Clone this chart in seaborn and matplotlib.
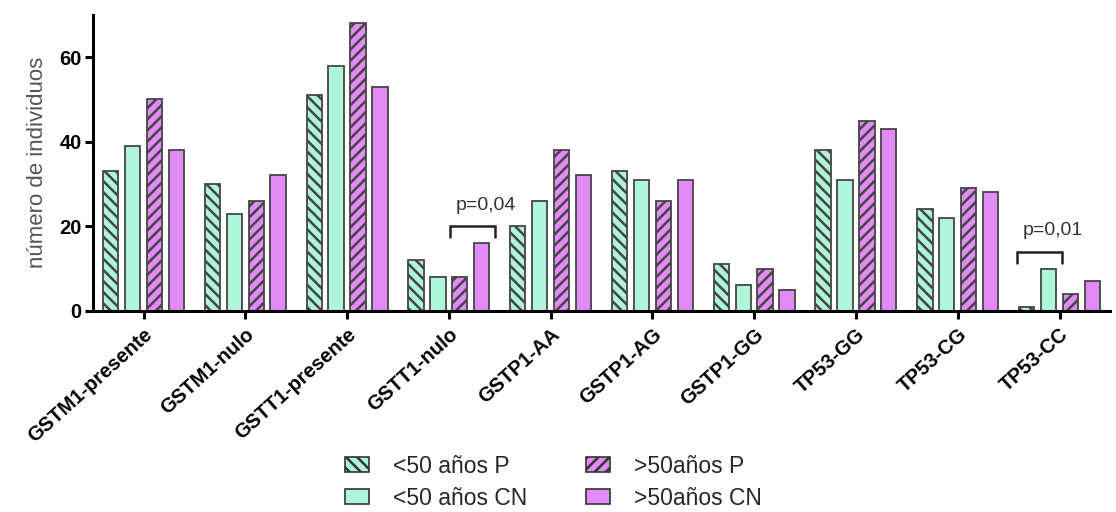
import numpy as np
import pandas as pd
import matplotlib
matplotlib.use("Agg")
import matplotlib.pyplot as plt
import matplotlib.patches as mpatches
import seaborn as sns

# Genotype categories and counts per group
categories = ["GSTM1-presente", "GSTM1-nulo", "GSTT1-presente", "GSTT1-nulo",
              "GSTP1-AA", "GSTP1-AG", "GSTP1-GG", "TP53-GG", "TP53-CG", "TP53-CC"]
groups = ["<50 años P", "<50 años CN", ">50años P", ">50años CN"]
menor50_p = [33, 30, 51, 12, 20, 33, 11, 38, 24, 1]
menor50_cn = [39, 23, 58, 8, 26, 31, 6, 31, 22, 10]
mayor50_p = [50, 26, 68, 8, 38, 26, 10, 45, 29, 4]
mayor50_cn = [38, 32, 53, 16, 32, 31, 5, 43, 28, 7]

# Significance annotations: (category, first group, last group, label)
significance = [("GSTT1-nulo", 2, 3, "p=0,04"),
                ("TP53-CC", 0, 1, "p=0,01")]

mint = "#aef5da"
violet = "#e28af6"
palette = [mint, mint, violet, violet]
hatches = ["\\\\\\", "", "///", ""]

df = pd.DataFrame({
    "categoria": np.tile(categories, 4),
    "grupo": np.repeat(groups, len(categories)),
    "n": menor50_p + menor50_cn + mayor50_p + mayor50_cn,
})

sns.set_style("ticks")
plt.rcParams["font.family"] = ["Liberation Sans", "DejaVu Sans"]
plt.rcParams["hatch.linewidth"] = 1.8
plt.rcParams["hatch.color"] = "black"

fig = plt.figure(figsize=(11.16, 5.12), dpi=100)
ax = fig.add_axes([0.083, 0.393, 0.912, 0.578])

sns.barplot(data=df, x="categoria", y="n", hue="grupo", order=categories,
            hue_order=groups, palette=palette, width=0.86, gap=0.3,
            edgecolor="#444444", linewidth=1.3, saturation=1, ax=ax,
            legend=False, errorbar=None)

for cont, h in zip(ax.containers, hatches):
    for bar in cont.patches:
        bar.set_hatch(h)

ax.set_xlim(-0.5, 9.5)
ax.set_ylim(0, 70)
ax.set_yticks([0, 20, 40, 60])
ax.set_xlabel("")
ax.set_ylabel("número de individuos", fontsize=16, color="#555555", labelpad=8)
sns.despine(ax=ax)
for side in ["left", "bottom"]:
    ax.spines[side].set_linewidth(2.2)
    ax.spines[side].set_color("black")
ax.tick_params(axis="both", width=2.2, length=6, color="black", labelcolor="black")
ax.tick_params(axis="y", labelsize=14.5, pad=2)
ax.tick_params(axis="x", labelsize=14.5, pad=4)
for lab in ax.get_yticklabels():
    lab.set_fontweight("bold")
for lab in ax.get_xticklabels():
    lab.set_fontweight("bold")
    lab.set_rotation(42)
    lab.set_ha("right")
    lab.set_rotation_mode("anchor")

# Brackets spanning the compared bars
for cat, g0, g1, text in significance:
    i = categories.index(cat)
    b0 = ax.containers[g0].patches[i]
    b1 = ax.containers[g1].patches[i]
    x0 = b0.get_x() - 0.02
    x1 = b1.get_x() + b1.get_width() + 0.055
    top = max(b0.get_height(), b1.get_height()) + 4.0
    ax.plot([x0, x0, x1, x1], [top - 2.6, top, top, top - 2.6],
            color="#222222", lw=1.8, solid_joinstyle="miter")
    ax.text((x0 + x1) / 2 + 0.13, top + 5.0, text, ha="center", va="center",
            fontsize=14, color="#333333")

handles = [mpatches.Patch(facecolor=c, edgecolor="#333333", hatch=h,
                          linewidth=1.2, label=g)
           for c, h, g in zip(palette, hatches, groups)]
fig.legend(handles=handles, loc="upper left", bbox_to_anchor=(0.309, 0.112),
           ncol=2, frameon=False, fontsize=16.5, handlelength=1.05,
           handleheight=0.6, columnspacing=2.55, handletextpad=1.05,
           labelspacing=0.4, borderpad=0, borderaxespad=0)

fig.savefig("out.png", dpi=100)
